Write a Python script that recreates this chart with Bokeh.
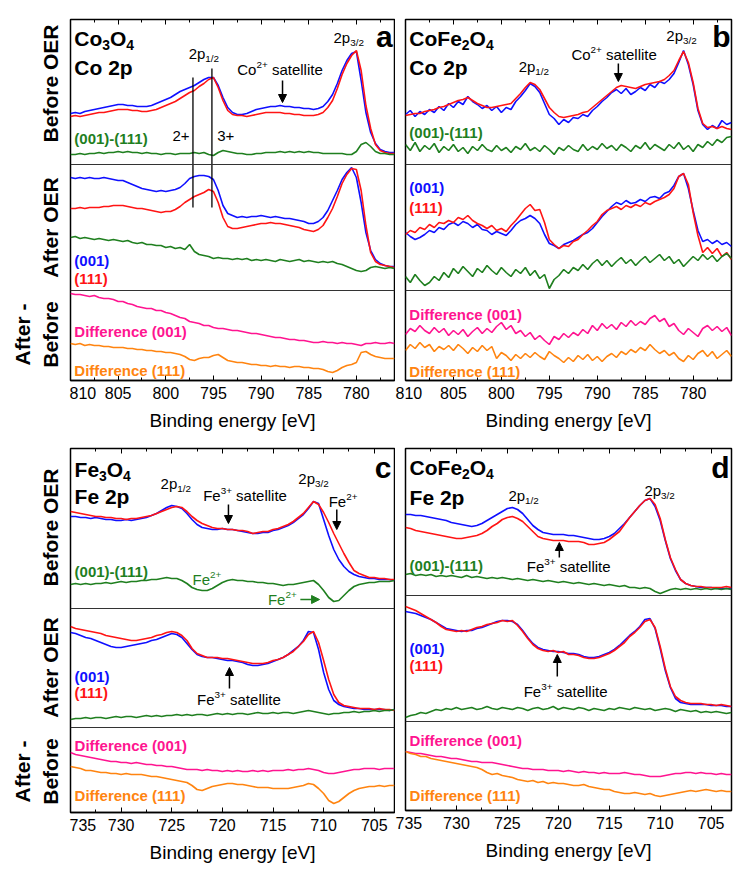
import math
from bokeh.plotting import figure
from bokeh.layouts import row, column
from bokeh.models import Range1d, Span, Label, Arrow, NormalHead, LinearAxis, SingleIntervalTicker
from bokeh.embed import file_html
from bokeh.resources import INLINE

# ---------------- data (intensity, arbitrary units, stacked with offsets) ----------------
E_CO = [810 - 0.5 * i for i in range(69)]   # 810 ... 776 eV
E_FE = [735 - 0.5 * i for i in range(65)]   # 735 ... 703 eV
CO_TICKS = [810, 805, 800, 795, 790, 785, 780]
FE_TICKS = [735, 730, 725, 720, 715, 710, 705]

# Panel a : Co3O4, Co 2p
A_BEF_001 = [267, 268, 267, 269, 270, 271, 272, 273, 274, 275,
             276, 276, 275, 275, 274, 274, 274, 275, 277, 279,
             281, 283, 286, 289, 291, 293, 295, 298, 301, 303,
             303, 295, 283, 273, 268, 266, 266, 267, 269, 271,
             272, 273, 274, 274, 275, 274, 274, 273, 273, 272,
             272, 271, 272, 274, 279, 286, 297, 310, 320, 327,
             329, 300, 268, 248, 237, 231, 229, 228, 228]
A_BEF_111 = [264, 265, 264, 265, 266, 267, 268, 268, 269, 270,
             271, 271, 271, 270, 270, 269, 269, 270, 271, 273,
             275, 277, 279, 282, 285, 288, 290, 294, 297, 301,
             303, 293, 280, 270, 266, 265, 265, 264, 265, 266,
             267, 268, 268, 268, 268, 267, 267, 266, 266, 265,
             265, 265, 266, 268, 273, 280, 292, 306, 317, 325,
             330, 310, 275, 252, 236, 230, 228, 227, 227]
A_BEF_DIF = [226, 226, 227, 226, 227, 227, 228, 227, 228, 228,
             229, 228, 229, 228, 228, 227, 228, 227, 227, 226,
             227, 227, 226, 227, 227, 227, 228, 227, 228, 226,
             225, 228, 230, 229, 228, 227, 227, 226, 226, 227,
             227, 228, 228, 228, 229, 228, 229, 228, 229, 228,
             229, 228, 228, 227, 227, 227, 227, 227, 226, 226,
             229, 236, 238, 234, 229, 227, 227, 226, 226]
A_AFT_001 = [203, 202, 203, 202, 203, 202, 202, 203, 202, 201,
             200, 200, 198, 196, 194, 192, 191, 190, 189, 190,
             189, 190, 191, 193, 197, 202, 204, 205, 205, 204,
             201, 190, 175, 167, 165, 163, 164, 163, 164, 164,
             165, 164, 163, 164, 163, 162, 162, 161, 160, 159,
             157, 157, 159, 163, 170, 180, 190, 201, 208, 213,
             203, 178, 148, 130, 121, 117, 115, 114, 114]
A_AFT_111 = [172, 172, 173, 172, 173, 173, 173, 174, 174, 175,
             175, 175, 174, 173, 172, 172, 171, 170, 169, 168,
             169, 169, 171, 174, 178, 181, 184, 186, 188, 191,
             189, 178, 163, 154, 152, 152, 153, 154, 155, 156,
             157, 157, 158, 157, 157, 156, 155, 154, 153, 151,
             150, 149, 151, 155, 163, 172, 184, 197, 206, 212,
             211, 190, 155, 128, 119, 116, 115, 114, 113]
A_AFT_DIF = [143, 144, 142, 143, 142, 141, 142, 141, 140, 141,
             140, 139, 140, 138, 137, 138, 136, 136, 135, 135,
             133, 134, 132, 133, 131, 136, 129, 126, 125, 124,
             122, 123, 122, 122, 121, 122, 121, 122, 120, 121,
             120, 121, 120, 119, 121, 120, 119, 120, 121, 119,
             120, 119, 118, 119, 118, 119, 117, 116, 114, 112,
             110, 109, 110, 113, 114, 113, 112, 113, 112]
A_D001 = [87, 86, 86, 85, 84, 85, 83, 82, 82, 81,
          79, 79, 77, 76, 74, 73, 72, 72, 70, 70,
          68, 67, 65, 63, 62, 59, 58, 57, 55, 55,
          53, 52, 52, 51, 50, 50, 49, 48, 47, 47,
          46, 45, 44, 43, 43, 42, 41, 41, 40, 40,
          39, 38, 38, 39, 38, 38, 37, 38, 37, 37,
          36, 35, 37, 37, 38, 37, 37, 38, 37]
A_D111 = [37, 36, 37, 35, 36, 35, 35, 34, 34, 33,
          33, 33, 32, 32, 31, 31, 30, 30, 29, 29,
          28, 28, 27, 26, 24, 21, 20, 22, 23, 23,
          25, 26, 23, 20, 19, 18, 18, 17, 16, 16,
          15, 15, 14, 15, 14, 14, 13, 14, 14, 13,
          13, 12, 12, 11, 9, 8, 10, 13, 15, 16,
          18, 28, 29, 26, 24, 23, 22, 22, 22]

# Panel b : CoFe2O4, Co 2p
B_BEF_001 = [266, 270, 264, 269, 266, 271, 268, 274, 270, 277,
             273, 279, 276, 284, 279, 276, 272, 275, 270, 274,
             268, 273, 271, 279, 284, 290, 297, 294, 288, 277,
             266, 262, 256, 261, 258, 263, 262, 266, 264, 270,
             274, 279, 283, 288, 291, 287, 292, 286, 289, 293,
             290, 296, 293, 299, 297, 301, 307, 318, 330, 316,
             296, 270, 256, 251, 255, 252, 260, 256, 258]
B_BEF_111 = [265, 266, 267, 267, 269, 270, 271, 273, 274, 276,
             278, 280, 281, 283, 280, 277, 275, 273, 273, 274,
             275, 276, 277, 282, 287, 293, 298, 296, 291, 282,
             273, 268, 264, 263, 264, 265, 266, 268, 269, 273,
             277, 281, 285, 289, 293, 295, 294, 293, 292, 294,
             296, 297, 298, 299, 301, 305, 310, 320, 329, 318,
             298, 272, 257, 253, 254, 252, 254, 252, 251]
B_BEF_DIF = [236, 230, 238, 229, 235, 231, 237, 228, 234, 230,
             236, 229, 233, 227, 234, 230, 236, 231, 229, 235,
             230, 233, 228, 234, 231, 237, 230, 233, 229, 235,
             231, 226, 233, 230, 235, 231, 229, 236, 230, 234,
             231, 237, 232, 235, 230, 236, 233, 229, 235, 232,
             238, 231, 236, 233, 230, 236, 232, 238, 231, 235,
             229, 236, 233, 239, 235, 241, 238, 243, 244]
B_AFT_001 = [148, 144, 141, 143, 146, 150, 148, 153, 151, 156,
             158, 155, 159, 157, 153, 156, 151, 150, 146, 149,
             147, 145, 150, 156, 160, 162, 165, 162, 157, 146,
             137, 135, 132, 136, 138, 140, 143, 146, 148, 152,
             158, 164, 169, 174, 178, 176, 180, 177, 178, 181,
             179, 183, 184, 182, 187, 189, 195, 204, 207, 192,
             170, 150, 139, 141, 137, 140, 136, 138, 134]
B_AFT_111 = [146, 150, 148, 153, 151, 156, 153, 158, 157, 160,
             158, 163, 161, 165, 160, 157, 155, 152, 155, 150,
             152, 149, 155, 160, 166, 172, 176, 170, 171, 158,
             141, 136, 132, 135, 134, 139, 141, 146, 150, 155,
             159, 166, 170, 172, 174, 171, 175, 173, 176, 174,
             178, 176, 179, 181, 183, 186, 192, 204, 207, 196,
             168, 145, 128, 133, 127, 132, 124, 128, 121]
B_AFT_DIF = [104, 98, 106, 100, 95, 98, 104, 100, 108, 103,
             112, 107, 114, 109, 104, 112, 108, 115, 110, 106,
             113, 108, 104, 111, 107, 113, 105, 110, 102, 106,
             92, 101, 105, 111, 107, 113, 110, 116, 111, 117,
             121, 115, 120, 114, 119, 123, 117, 121, 115, 120,
             124, 118, 122, 126, 120, 124, 117, 121, 114, 119,
             124, 120, 126, 121, 125, 119, 124, 127, 122]
B_D001 = [46, 52, 49, 55, 50, 47, 53, 48, 52, 45,
          50, 46, 51, 44, 49, 53, 47, 52, 48, 54,
          58, 51, 55, 47, 50, 44, 48, 41, 45, 40,
          36, 44, 41, 47, 43, 48, 45, 51, 47, 55,
          50, 57, 52, 56, 51, 58, 54, 60, 55, 59,
          56, 62, 65, 59, 62, 54, 57, 50, 46, 52,
          48, 44, 52, 55, 50, 54, 49, 53, 45]
B_D111 = [30, 36, 32, 38, 33, 36, 29, 34, 31, 35,
          30, 36, 32, 27, 33, 29, 35, 30, 34, 22,
          28, 25, 20, 26, 22, 27, 23, 28, 24, 21,
          29, 25, 22, 18, 23, 19, 25, 21, 26, 20,
          24, 19, 24, 27, 23, 29, 26, 31, 28, 33,
          30, 36, 31, 27, 30, 25, 28, 22, 19, 25,
          21, 27, 30, 24, 29, 22, 26, 30, 24]

# Panel c : Fe3O4, Fe 2p
C_BEF_001 = [296, 296, 295, 295, 294, 295, 294, 293, 293, 292,
             292, 293, 292, 293, 294, 295, 297, 299, 302, 305,
             307, 306, 304, 299, 293, 288, 285, 284, 283, 283,
             284, 283, 283, 282, 281, 280, 279, 279, 280, 280,
             282, 283, 285, 287, 290, 294, 298, 304, 311, 309,
             293, 277, 263, 253, 246, 241, 238, 236, 235, 234,
             234, 233, 233, 233, 232]
C_BEF_111 = [301, 300, 299, 298, 297, 296, 296, 295, 295, 294,
             294, 293, 294, 294, 295, 296, 297, 299, 301, 303,
             305, 306, 305, 301, 296, 292, 289, 287, 285, 284,
             284, 283, 283, 282, 282, 281, 279, 280, 281, 281,
             283, 284, 286, 288, 291, 295, 299, 305, 311, 308,
             300, 290, 279, 269, 259, 250, 242, 239, 237, 235,
             235, 234, 234, 233, 233]
C_BEF_DIF = [228, 229, 228, 229, 228, 229, 229, 230, 229, 230,
             231, 230, 231, 231, 232, 232, 233, 233, 234, 235,
             234, 234, 232, 229, 225, 223, 222, 222, 224, 227,
             230, 232, 233, 232, 232, 231, 231, 230, 230, 229,
             229, 228, 227, 228, 228, 229, 230, 231, 232, 228,
             222, 215, 211, 212, 217, 222, 226, 228, 229, 230,
             230, 231, 231, 231, 232]
C_AFT_001 = [180, 179, 177, 175, 174, 172, 170, 168, 166, 165,
             165, 166, 167, 168, 169, 170, 172, 173, 175, 177,
             179, 178, 175, 169, 163, 158, 156, 155, 155, 154,
             153, 152, 152, 151, 150, 148, 147, 147, 148, 149,
             151, 153, 155, 158, 162, 166, 172, 181, 180, 163,
             140, 123, 112, 108, 106, 105, 104, 104, 103, 103,
             103, 103, 103, 102, 103]
C_AFT_111 = [186, 184, 183, 182, 181, 180, 179, 177, 176, 175,
             174, 173, 172, 172, 173, 174, 175, 177, 178, 180,
             181, 180, 177, 172, 164, 159, 157, 155, 155, 155,
             154, 154, 153, 152, 151, 150, 149, 149, 149, 150,
             152, 153, 155, 158, 161, 166, 171, 178, 181, 170,
             152, 133, 118, 110, 107, 106, 105, 104, 104, 104,
             103, 104, 103, 103, 102]
C_AFT_DIF = [93, 94, 94, 95, 94, 95, 95, 94, 95, 96,
             95, 96, 96, 95, 96, 97, 96, 97, 96, 97,
             97, 98, 97, 98, 97, 98, 98, 97, 98, 99,
             98, 99, 98, 99, 99, 98, 99, 100, 99, 99,
             100, 99, 100, 100, 99, 100, 101, 102, 101, 100,
             99, 98, 99, 99, 100, 100, 101, 100, 101, 101,
             102, 101, 102, 102, 103]
C_D001 = [60, 58, 57, 56, 55, 54, 53, 52, 51, 51,
          50, 50, 49, 50, 49, 48, 48, 47, 47, 46,
          46, 45, 44, 43, 43, 43, 42, 43, 42, 42,
          41, 42, 41, 42, 41, 41, 42, 41, 42, 41,
          42, 42, 42, 43, 42, 43, 43, 44, 43, 42,
          40, 39, 39, 40, 41, 42, 43, 43, 44, 44,
          44, 43, 44, 44, 44]
C_D111 = [46, 45, 44, 42, 42, 41, 40, 40, 39, 39,
          38, 39, 38, 38, 38, 37, 36, 36, 35, 34,
          33, 32, 31, 30, 27, 23, 22, 24, 26, 27,
          28, 29, 29, 28, 28, 27, 26, 25, 25, 25,
          24, 24, 24, 24, 25, 26, 27, 29, 28, 24,
          19, 12, 9, 11, 15, 19, 22, 24, 25, 26,
          26, 27, 26, 27, 27]

# Panel d : CoFe2O4, Fe 2p
D_BEF_001 = [296, 296, 295, 295, 294, 293, 292, 291, 290, 288,
             287, 286, 285, 284, 285, 287, 290, 293, 296, 299,
             302, 303, 301, 297, 291, 285, 281, 278, 277, 276,
             276, 276, 275, 275, 274, 273, 272, 271, 271, 272,
             274, 277, 282, 287, 293, 299, 305, 310, 312, 304,
             290, 270, 252, 240, 231, 227, 225, 224, 223, 223,
             223, 222, 222, 222, 222]
D_BEF_111 = [283, 282, 280, 279, 278, 277, 276, 275, 274, 273,
             272, 272, 273, 274, 275, 277, 280, 284, 287, 291,
             293, 294, 292, 289, 284, 279, 274, 272, 271, 270,
             270, 270, 269, 269, 269, 268, 266, 266, 267, 268,
             271, 275, 279, 286, 293, 299, 305, 310, 312, 306,
             292, 271, 253, 241, 231, 227, 225, 224, 224, 223,
             223, 223, 223, 224, 223]
D_BEF_DIF = [236, 237, 235, 236, 235, 236, 234, 235, 234, 235,
             234, 233, 235, 233, 234, 233, 232, 233, 232, 233,
             232, 231, 232, 231, 230, 231, 230, 229, 230, 229,
             228, 229, 228, 227, 228, 227, 226, 227, 226, 225,
             226, 225, 224, 225, 223, 223, 222, 223, 222, 219,
             217, 219, 221, 222, 221, 222, 221, 222, 221, 222,
             221, 222, 221, 222, 221]
D_AFT_001 = [199, 198, 197, 195, 193, 191, 188, 185, 182, 181,
             180, 179, 180, 180, 182, 183, 185, 187, 189, 190,
             190, 189, 186, 180, 173, 167, 163, 161, 160, 159,
             159, 158, 157, 157, 156, 154, 153, 153, 154, 156,
             158, 161, 165, 170, 175, 179, 184, 191, 192, 182,
             162, 140, 123, 112, 108, 107, 106, 106, 106, 106,
             105, 105, 105, 104, 104]
D_AFT_111 = [204, 202, 200, 197, 194, 191, 188, 184, 181, 180,
             179, 180, 179, 181, 183, 184, 186, 187, 188, 190,
             189, 190, 185, 179, 172, 166, 162, 160, 159, 160,
             158, 159, 156, 156, 155, 153, 152, 152, 153, 155,
             157, 160, 164, 168, 174, 178, 183, 189, 191, 183,
             164, 142, 124, 114, 110, 108, 107, 107, 107, 106,
             106, 105, 106, 105, 104]
D_AFT_DIF = [93, 95, 96, 98, 97, 99, 101, 100, 102, 101,
             103, 101, 102, 103, 101, 102, 104, 102, 101, 103,
             102, 101, 103, 102, 100, 102, 103, 101, 102, 104,
             101, 103, 102, 101, 103, 102, 100, 102, 101, 100,
             102, 101, 103, 102, 101, 103, 102, 101, 102, 100,
             101, 102, 101, 99, 101, 100, 99, 100, 98, 99,
             98, 99, 98, 97, 98]
D_D001 = [59, 58, 57, 57, 56, 55, 54, 54, 53, 52,
          52, 51, 50, 49, 49, 48, 48, 48, 47, 46,
          45, 44, 43, 42, 42, 41, 41, 41, 40, 40,
          40, 39, 40, 39, 38, 39, 38, 38, 37, 38,
          37, 37, 37, 38, 37, 36, 36, 35, 34, 34,
          34, 35, 36, 37, 37, 38, 38, 37, 38, 37,
          37, 36, 37, 36, 36]
D_D111 = [59, 57, 56, 54, 54, 52, 51, 50, 49, 48,
          47, 46, 45, 44, 43, 41, 38, 36, 37, 35,
          34, 33, 31, 30, 29, 30, 28, 29, 27, 28,
          27, 27, 26, 25, 25, 26, 24, 23, 22, 21,
          21, 19, 18, 17, 17, 18, 17, 16, 17, 15,
          14, 15, 16, 17, 18, 19, 20, 19, 20, 21,
          20, 19, 20, 19, 19]

# ---------------- styling ----------------
FONT = "Liberation Sans"
BLUE = "#0f0fff"
RED = "#ff1414"
GREEN = "#1f7f1f"
PINK = "#ff1490"
ORANGE = "#ff8410"

W_REG = {'C': .722, 'o': .556, 'O': .778, 'F': .611, 'e': .556, 'p': .556, ' ': .278, '/': .278,
         '+': .584, 's': .5, 'a': .556, 't': .278, 'l': .222, 'i': .222}
W_BOLD = {'C': .722, 'o': .611, 'O': .778, 'F': .611, 'e': .556, 'p': .611, ' ': .278, '(': .333,
          ')': .333, '-': .333, 'D': .722, 'i': .278, 'f': .333, 'r': .389, 'n': .611, 'c': .556}


def tw(s, bold):
    tab = W_BOLD if bold else W_REG
    return sum(tab.get(ch, .556) for ch in s)


def rich(p, x, y, parts, size, color="black", bold=False):
    """Text centred vertically on y. parts: (text, mode); mode 0 normal, -1 subscript, 1 superscript"""
    sizes = [size if m == 0 else size * 0.66 for _, m in parts]
    widths = [tw(t, bold) * s for (t, _), s in zip(parts, sizes)]
    off = 0
    for (t, m), s, w in zip(parts, sizes, widths):
        dy = 0 if m == 0 else (-0.30 * size if m < 0 else 0.32 * size)
        lead = len(t) - len(t.lstrip(" "))
        shift = tw(" " * lead, bold) * s
        p.add_layout(Label(x=x, y=y + dy, x_offset=off + shift, text=t.lstrip(" "), text_font=FONT,
                           text_font_size=f"{s:.1f}px", text_color=color,
                           text_font_style="bold" if bold else "normal",
                           text_align="left", text_baseline="middle"))
        off += w


def label(p, x, y, text, size, color="black", bold=False, align="left", angle=0.0):
    p.add_layout(Label(x=x, y=y, text=text, text_font=FONT, text_font_size=f"{size}px",
                       text_color=color, text_font_style="bold" if bold else "normal",
                       text_align=align, text_baseline="middle", angle=angle))


def arrow(p, x0, y0, x1, y1, color="black"):
    p.add_layout(Arrow(end=NormalHead(size=8, fill_color=color, line_color=color, line_width=1),
                       x_start=x0, y_start=y0, x_end=x1, y_end=y1, line_color=color, line_width=1.5))


def make_fig(xr, ticks, H, fw, left, right, top, bottom, dividers):
    p = figure(x_range=Range1d(xr[0], xr[1]), y_range=Range1d(0, H),
               frame_width=fw, frame_height=H, output_backend="svg", toolbar_location=None,
               y_axis_location=None, min_border_left=left, min_border_right=right,
               min_border_top=top, min_border_bottom=bottom)
    p.grid.visible = False
    p.outline_line_color = "black"
    p.outline_line_width = 1.5
    p.outline_line_alpha = 1.0
    p.background_fill_color = "white"
    p.border_fill_color = "white"
    ax = p.xaxis[0]
    ax.ticker = SingleIntervalTicker(interval=5, num_minor_ticks=2)
    ax.axis_label = "Binding energy [eV]"
    ax.axis_label_text_font = FONT
    ax.axis_label_text_font_size = "19px"
    ax.axis_label_text_font_style = "normal"
    ax.axis_label_text_color = "black"
    ax.axis_label_standoff = 8
    ax.major_label_text_font = FONT
    ax.major_label_text_font_size = "16px"
    ax.major_label_text_color = "black"
    ax.major_label_standoff = 6
    ax.major_tick_in = 5
    ax.major_tick_out = 0
    ax.minor_tick_in = 3
    ax.minor_tick_out = 0
    ax.axis_line_color = "black"
    ax.axis_line_width = 1.5
    ax.major_tick_line_color = "black"
    ax.minor_tick_line_color = "black"
    topax = LinearAxis(ticker=SingleIntervalTicker(interval=5, num_minor_ticks=2),
                       major_label_overrides={t: "" for t in ticks},
                       major_label_text_font_size="1px", major_label_standoff=0,
                       axis_line_color=None, major_tick_in=5, major_tick_out=0,
                       minor_tick_in=3, minor_tick_out=0,
                       major_tick_line_color="black", minor_tick_line_color="black")
    p.add_layout(topax, "above")
    for d in dividers:
        p.add_layout(Span(location=d, dimension="width", line_color="#333333", line_width=1))
    return p


def side_fig(H, top, bottom, items):
    p = figure(x_range=Range1d(0, 69), y_range=Range1d(0, H), frame_width=69, frame_height=H,
               min_border_left=0, min_border_right=0, min_border_top=top, min_border_bottom=bottom,
               x_axis_location=None, y_axis_location=None, toolbar_location=None,
               output_backend="svg")
    p.grid.visible = False
    p.outline_line_color = None
    p.background_fill_color = "white"
    p.border_fill_color = "white"
    for x, y, t in items:
        label(p, x, y, t, 21, bold=True, align="center", angle=math.pi / 2)
    return p


def spectra(p, E, curves):
    for vals, col in curves:
        p.line(E, vals, line_color=col, line_width=1.6)


# ---------------- row labels ----------------
side1 = side_fig(361, 19, 60, [(50, 297, "Before OER"), (50, 153, "After OER"),
                               (22, 46, "After -"), (50, 46, "Before")])
side2 = side_fig(364, 8, 54, [(50, 285, "Before OER"), (50, 145, "After OER"),
                              (22, 41, "After -"), (50, 41, "Before")])

# ---------------- panel a ----------------
pa = make_fig((810, 776), CO_TICKS, 361, 324, 1, 1, 19, 60, [216, 90])
spectra(pa, E_CO, [(A_BEF_001, BLUE), (A_BEF_111, RED), (A_BEF_DIF, GREEN),
                   (A_AFT_001, BLUE), (A_AFT_111, RED), (A_AFT_DIF, GREEN),
                   (A_D001, PINK), (A_D111, ORANGE)])
pa.segment(x0=[797.15, 795.16], y0=[303, 312], x1=[797.15, 795.16], y1=[173, 173],
           line_color="black", line_width=1.3)
rich(pa, 809.6, 342, [("Co", 0), ("3", -1), ("O", 0), ("4", -1)], 21, bold=True)
rich(pa, 809.6, 313, [("Co 2p", 0)], 21, bold=True)
rich(pa, 797.6, 327, [("2p", 0), ("1/2", -1)], 15)
rich(pa, 782.4, 343, [("2p", 0), ("3/2", -1)], 15)
rich(pa, 792.5, 311, [("Co", 0), ("2+", 1), (" satellite", 0)], 15)
arrow(pa, 787.75, 300, 787.75, 278)
label(pa, 799.3, 245, "2+", 15)
label(pa, 794.6, 245, "3+", 15)
label(pa, 776.2, 344, "a", 30, bold=True, align="right")
label(pa, 809.6, 242, "(001)-(111)", 15, GREEN, bold=True)
label(pa, 809.6, 120, "(001)", 15, BLUE, bold=True)
label(pa, 809.6, 102, "(111)", 15, RED, bold=True)
label(pa, 809.6, 49, "Difference (001)", 15, PINK, bold=True)
label(pa, 809.6, 10, "Difference (111)", 15, ORANGE, bold=True)

# ---------------- panel b ----------------
pb = make_fig((810, 776), CO_TICKS, 361, 326, 10, 3, 19, 60, [216, 90])
spectra(pb, E_CO, [(B_BEF_001, BLUE), (B_BEF_111, RED), (B_BEF_DIF, GREEN),
                   (B_AFT_001, BLUE), (B_AFT_111, RED), (B_AFT_DIF, GREEN),
                   (B_D001, PINK), (B_D111, ORANGE)])
rich(pb, 809.6, 342, [("CoFe", 0), ("2", -1), ("O", 0), ("4", -1)], 21, bold=True)
rich(pb, 809.6, 313, [("Co 2p", 0)], 21, bold=True)
rich(pb, 798.2, 314, [("2p", 0), ("1/2", -1)], 15)
rich(pb, 782.8, 345, [("2p", 0), ("3/2", -1)], 15)
rich(pb, 792.7, 326, [("Co", 0), ("2+", 1), (" satellite", 0)], 15)
arrow(pb, 787.8, 317, 787.8, 299)
label(pb, 776.1, 344, "b", 30, bold=True, align="right")
label(pb, 809.6, 248, "(001)-(111)", 15, GREEN, bold=True)
label(pb, 809.6, 193, "(001)", 15, BLUE, bold=True)
label(pb, 809.6, 173, "(111)", 15, RED, bold=True)
label(pb, 809.6, 66, "Difference (001)", 15, PINK, bold=True)
label(pb, 809.6, 9, "Difference (111)", 15, ORANGE, bold=True)

# ---------------- panel c ----------------
pc = make_fig((735, 703), FE_TICKS, 364, 324, 1, 1, 8, 54, [204, 85])
spectra(pc, E_FE, [(C_BEF_001, BLUE), (C_BEF_111, RED), (C_BEF_DIF, GREEN),
                   (C_AFT_001, BLUE), (C_AFT_111, RED), (C_AFT_DIF, GREEN),
                   (C_D001, PINK), (C_D111, ORANGE)])
rich(pc, 734.6, 343, [("Fe", 0), ("3", -1), ("O", 0), ("4", -1)], 21, bold=True)
rich(pc, 734.6, 316, [("Fe 2p", 0)], 21, bold=True)
rich(pc, 726.1, 329, [("2p", 0), ("1/2", -1)], 15)
rich(pc, 712.5, 334, [("2p", 0), ("3/2", -1)], 15)
rich(pc, 721.9, 317, [("Fe", 0), ("3+", 1), (" satellite", 0)], 15)
arrow(pc, 719.4, 308, 719.4, 289)
rich(pc, 709.5, 311, [("Fe", 0), ("2+", 1)], 15)
arrow(pc, 708.7, 303, 708.7, 283)
label(pc, 703.3, 345, "c", 30, bold=True, align="right")
label(pc, 734.6, 241, "(001)-(111)", 15, GREEN, bold=True)
rich(pc, 722.95, 233, [("Fe", 0), ("2+", 1)], 15, GREEN)
rich(pc, 715.5, 213, [("Fe", 0), ("2+", 1)], 15, GREEN)
arrow(pc, 712.3, 213, 710.4, 213, GREEN)
label(pc, 734.6, 136, "(001)", 15, BLUE, bold=True)
label(pc, 734.6, 120, "(111)", 15, RED, bold=True)
rich(pc, 722.5, 113, [("Fe", 0), ("3+", 1), (" satellite", 0)], 15)
arrow(pc, 719.3, 124, 719.3, 145)
label(pc, 734.6, 67, "Difference (001)", 15, PINK, bold=True)
label(pc, 734.6, 17, "Difference (111)", 15, ORANGE, bold=True)

# ---------------- panel d ----------------
pd_ = make_fig((735, 703), FE_TICKS, 362, 326, 10, 3, 7, 56, [215, 89])
spectra(pd_, E_FE, [(D_BEF_001, BLUE), (D_BEF_111, RED), (D_BEF_DIF, GREEN),
                    (D_AFT_001, BLUE), (D_AFT_111, RED), (D_AFT_DIF, GREEN),
                    (D_D001, PINK), (D_D111, ORANGE)])
rich(pd_, 734.6, 343, [("CoFe", 0), ("2", -1), ("O", 0), ("4", -1)], 21, bold=True)
rich(pd_, 734.6, 313, [("Fe 2p", 0)], 21, bold=True)
rich(pd_, 724.9, 315, [("2p", 0), ("1/2", -1)], 15)
rich(pd_, 711.55, 320, [("2p", 0), ("3/2", -1)], 15)
label(pd_, 703.2, 343, "d", 30, bold=True, align="right")
rich(pd_, 723.1, 244, [("Fe", 0), ("3+", 1), (" satellite", 0)], 15)
arrow(pd_, 719.9, 253, 719.9, 268)
label(pd_, 734.6, 245, "(001)-(111)", 15, GREEN, bold=True)
label(pd_, 734.6, 162, "(001)", 15, BLUE, bold=True)
label(pd_, 734.6, 145, "(111)", 15, RED, bold=True)
rich(pd_, 723.4, 119, [("Fe", 0), ("3+", 1), (" satellite", 0)], 15)
arrow(pd_, 720.1, 134, 720.1, 156)
label(pd_, 734.6, 70, "Difference (001)", 15, PINK, bold=True)
label(pd_, 734.6, 15, "Difference (111)", 15, ORANGE, bold=True)

layout = column(row(side1, pa, pb), row(side2, pc, pd_))
open("out.html", "w").write(file_html(layout, INLINE, title="XPS spectra"))
